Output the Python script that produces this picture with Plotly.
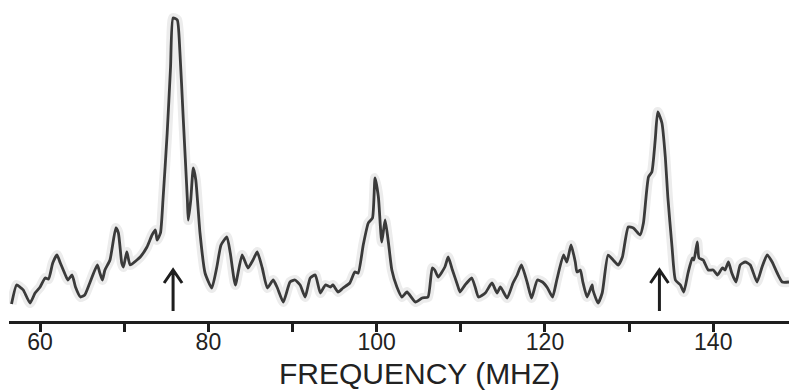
import plotly.graph_objects as go

# Frequency (MHz) of traced points
freq_mhz = [
    56.6, 57.2, 57.6, 58.0, 58.8, 59.4, 60.0, 60.6, 61.0, 61.5,
    62.0, 62.4, 63.0, 63.3, 63.8, 64.2, 64.8, 65.3, 65.9, 66.8,
    67.1, 67.4, 67.7, 68.3, 69.0, 69.3, 69.7, 69.9, 70.3, 70.7,
    71.5, 71.9, 72.7, 73.3, 73.7, 73.9, 74.3, 74.6, 75.1, 75.5,
    75.8, 76.3, 76.6, 77.0, 77.5, 77.6, 77.9, 78.2, 78.5, 79.0,
    79.6, 80.4, 81.0, 81.5, 82.2, 82.6, 83.2, 84.0, 84.7, 85.3,
    85.8, 86.4, 87.0, 87.7, 88.2, 88.9, 89.7, 90.3, 90.9, 91.5,
    92.1, 92.7, 93.3, 93.9, 94.5, 94.8, 95.4, 96.0, 96.8, 97.4,
    97.8, 98.4, 99.0, 99.5, 99.8, 100.2, 100.6, 101.0, 101.4, 101.8,
    102.4, 103.0, 103.6, 104.6, 105.4, 106.1, 106.6, 106.9, 107.3, 108.1,
    108.5, 109.0, 109.6, 109.9, 110.5, 111.3, 111.7, 112.1, 112.9, 113.7,
    114.3, 114.7, 115.5, 116.2, 116.7, 117.2, 117.9, 118.4, 119.1, 119.7,
    120.3, 120.9, 121.4, 122.2, 122.6, 123.1, 123.6, 123.8, 124.2, 124.5,
    125.0, 125.6, 125.7, 126.3, 126.8, 127.5, 128.1, 128.7, 129.2, 129.9,
    130.5, 131.3, 131.7, 132.3, 132.7, 133.1, 133.4, 133.9, 134.3, 134.6,
    135.1, 135.5, 136.1, 136.5, 137.0, 137.5, 137.7, 138.1, 138.3, 138.8,
    139.4, 140.0, 140.5, 141.1, 141.4, 141.8, 142.2, 142.7, 143.2, 143.8,
    144.4, 145.2, 145.8, 146.4, 147.0, 147.6, 148.2, 149.0,
]

# Relative intensity (arbitrary units)
intensity = [
    17, 36, 34, 31, 18, 28, 34, 43, 42, 58,
    66, 58, 46, 41, 46, 34, 24, 26, 38, 56,
    48, 41, 51, 61, 93, 88, 58, 54, 69, 56,
    61, 64, 74, 86, 91, 81, 88, 121, 188, 254,
    303, 301, 271, 204, 121, 101, 121, 153, 141, 88,
    48, 33, 54, 76, 84, 68, 36, 66, 53, 61,
    69, 53, 33, 41, 33, 19, 39, 41, 36, 24,
    43, 46, 28, 36, 34, 36, 29, 33, 38, 49,
    48, 76, 98, 103, 143, 124, 79, 101, 78, 51,
    34, 24, 29, 19, 23, 24, 53, 51, 44, 54,
    64, 51, 36, 29, 36, 43, 34, 24, 28, 38,
    28, 34, 23, 38, 46, 56, 38, 23, 41, 39,
    33, 24, 41, 66, 59, 76, 59, 49, 51, 39,
    24, 36, 31, 18, 28, 66, 61, 56, 64, 94,
    93, 86, 98, 144, 149, 181, 209, 198, 164, 124,
    74, 41, 36, 29, 48, 63, 61, 79, 63, 61,
    51, 51, 46, 53, 51, 59, 48, 39, 56, 59,
    56, 39, 54, 66, 59, 48, 39, 39,
]

tick_vals = [60, 70, 80, 90, 100, 110, 120, 130, 140]
tick_text = ["60", "", "80", "", "100", "", "120", "", "140"]
arrow_freqs = [75.8, 133.6]
x_title = "FREQUENCY (MHZ)"

assert len(freq_mhz) == len(intensity)

FONT = "Arial, Liberation Sans, sans-serif"
INK = "#1e1e1e"

fig = go.Figure()
# soft halo beneath the trace
fig.add_trace(go.Scatter(
    x=freq_mhz, y=intensity, mode="lines",
    line=dict(color="#ececec", width=10, shape="spline", smoothing=0.5),
    hoverinfo="skip", showlegend=False,
))
fig.add_trace(go.Scatter(
    x=freq_mhz, y=intensity, mode="lines",
    line=dict(color="#3a3a3a", width=2.8, shape="spline", smoothing=0.5),
    showlegend=False,
))

for f in arrow_freqs:
    fig.add_shape(
        type="path", xref="x", yref="y",
        xsizemode="pixel", ysizemode="pixel",
        xanchor=f, yanchor=0,
        path="M0,10 L0,50 M-9,38 L0,51 L9,38",
        line=dict(color=INK, width=3),
    )

fig.add_annotation(
    text=x_title, xref="x", yref="paper", x=105.1, y=-0.219,
    xanchor="center", yanchor="bottom", showarrow=False, borderpad=0,
    font=dict(family=FONT, size=30, color="#222222"),
)

fig.update_layout(
    width=789, height=392,
    margin=dict(l=9, r=0, t=0, b=71),
    paper_bgcolor="white", plot_bgcolor="white",
    xaxis=dict(
        range=[56.3, 149.0], showgrid=False, zeroline=False,
        showline=True, linewidth=3, linecolor=INK,
        ticks="outside", ticklen=8, tickwidth=3, tickcolor=INK,
        tickvals=tick_vals, ticktext=tick_text,
        ticklabelstandoff=-10,
        tickfont=dict(family=FONT, size=23, color="#222222"),
    ),
    yaxis=dict(range=[0, 321], visible=False),
)

fig.write_html("out.html")
